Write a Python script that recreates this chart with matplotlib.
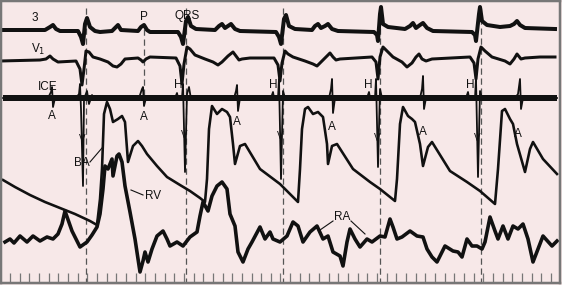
import numpy as np
import matplotlib.pyplot as plt

# traces (x, y in picture units, y grows downwards)
lead3_x = [3, 45, 50, 53, 56, 60, 78, 81, 83, 85, 87, 90, 95, 100, 112, 115, 118, 121, 138, 141, 144, 147, 150,
           178, 181, 183, 186, 188, 191, 196, 215, 219, 222, 225, 228, 231, 235, 240, 276, 279, 281, 284, 286, 289,
           295, 312, 315, 318, 321, 325, 328, 332, 338, 374, 377, 378, 380, 381, 383, 388, 405, 410, 413, 416, 420,
           423, 427, 433, 472, 475, 476, 479, 480, 482, 487, 500, 510, 514, 517, 520, 525, 555]
lead3_y = [31, 31, 28, 26, 30, 32, 32, 38, 45, 25, 19, 28, 32, 33, 32, 29, 26, 31, 32, 28, 26, 31, 33,
           33, 38, 45, 22, 18, 27, 30, 31, 27, 25, 29, 27, 25, 30, 32, 33, 38, 45, 20, 16, 27,
           30, 31, 27, 25, 29, 27, 25, 30, 32, 33, 36, 42, 15, 8, 25, 28, 30, 27, 24, 29, 26,
           24, 29, 32, 33, 36, 42, 15, 8, 22, 26, 28, 27, 25, 22, 26, 29, 30]

v1_x = [0, 40, 46, 50, 53, 58, 76, 80, 82, 84, 86, 89, 93, 100, 108, 113, 117, 121, 125, 138, 141, 143, 146, 150,
        176, 180, 182, 184, 187, 190, 195, 205, 213, 218, 222, 228, 233, 236, 239, 242, 250, 274, 278, 280, 282,
        285, 288, 293, 305, 313, 317, 322, 326, 330, 333, 336, 340, 372, 376, 378, 380, 383, 387, 393, 402, 407,
        412, 416, 419, 422, 426, 432, 470, 474, 476, 478, 481, 485, 492, 505, 510, 514, 517, 521, 525, 540, 555]
v1_y = [62, 61, 60, 57, 60, 63, 62, 70, 86, 70, 52, 53, 58, 60, 63, 67, 68, 65, 60, 59, 61, 63, 60, 58,
        59, 67, 85, 65, 48, 50, 56, 60, 63, 66, 63, 57, 53, 57, 61, 60, 59, 59, 66, 82, 64,
        52, 55, 58, 62, 65, 67, 62, 58, 54, 58, 61, 60, 58, 63, 80, 58, 48, 52, 58, 63, 68,
        64, 58, 55, 60, 62, 60, 58, 64, 80, 60, 48, 52, 58, 62, 65, 60, 55, 60, 59, 58, 58]

ice_x = [3, 48, 51, 52, 53, 55, 76, 79, 80, 81, 83, 84, 87, 89, 92, 95, 100, 139, 142, 143, 144, 146,
         175, 177, 178, 182, 183, 185, 187, 189, 191, 234, 236, 237, 238, 240, 271, 273, 274, 278, 279, 281,
         283, 285, 329, 331, 332, 333, 335, 367, 369, 370, 375, 376, 378, 380, 382, 420, 422, 423, 424, 426,
         466, 468, 469, 475, 476, 478, 480, 482, 515, 518, 520, 521, 523, 557]
ice_y = [99, 99, 93, 88, 108, 99, 99, 95, 85, 110, 187, 100, 92, 105, 96, 101, 99, 99, 90, 88, 107, 99,
         99, 94, 99, 99, 85, 173, 95, 88, 100, 99, 92, 86, 112, 99, 99, 93, 99, 99, 80, 180,
         92, 99, 99, 90, 80, 114, 99, 99, 93, 99, 99, 80, 168, 90, 99, 99, 90, 77, 110, 99,
         99, 93, 99, 99, 80, 178, 92, 99, 99, 95, 80, 110, 99, 99]
ice_base = 99

ba_x = [3, 15, 30, 45, 60, 75, 90, 97, 100, 102, 104, 107, 110, 113, 118, 122, 125, 128, 133, 138, 142, 147,
        157, 167, 180, 190, 200, 205, 207, 209, 212, 217, 222, 227, 230, 233, 235, 240, 245, 260, 280, 298,
        300, 302, 305, 308, 313, 318, 323, 327, 328, 332, 337, 353, 370, 380, 395, 397, 400, 403, 408, 412,
        415, 420, 423, 428, 432, 450, 467, 480, 495, 498, 502, 505, 510, 513, 517, 525, 530, 533, 543, 557]
ba_y = [181, 188, 196, 203, 209, 215, 222, 226, 200, 170, 115, 103, 110, 123, 120, 117, 123, 163, 147, 142, 147, 155,
        167, 178, 186, 192, 199, 203, 180, 130, 107, 115, 110, 113, 118, 145, 165, 147, 145, 170, 185, 203,
        170, 130, 110, 108, 115, 113, 118, 145, 165, 147, 145, 170, 183, 190, 202, 180, 125, 108, 117, 120,
        123, 145, 167, 148, 143, 172, 183, 192, 205, 170, 112, 110, 120, 125, 145, 173, 150, 143, 160, 175]

rv_x = [5, 10, 14, 20, 27, 33, 40, 47, 53, 58, 62, 65, 72, 80, 87, 92, 97, 100, 103, 105, 108, 112, 113, 117,
        119, 122, 125, 130, 135, 140, 143, 145, 148, 152, 157, 163, 167, 170, 177, 183, 190, 197, 200, 203,
        208, 212, 217, 222, 227, 230, 235, 238, 243, 248, 252, 260, 265, 270, 273, 280, 287, 293, 298, 303,
        310, 317, 323, 328, 333, 340, 343, 347, 350, 355, 360, 367, 372, 380, 385, 390, 393, 397, 402, 410,
        417, 423, 427, 432, 437, 445, 453, 458, 462, 467, 472, 477, 482, 485, 490, 495, 498, 503, 508, 513,
        518, 523, 528, 533, 538, 543, 552, 557]
rv_y = [243, 240, 244, 237, 243, 237, 242, 238, 240, 235, 225, 212, 232, 248, 243, 236, 228, 215, 190, 167, 170, 160,
        177, 157, 155, 163, 187, 213, 240, 273, 262, 253, 263, 250, 237, 232, 240, 247, 243, 247, 238, 233, 217,
        203, 212, 197, 187, 183, 190, 215, 227, 253, 263, 250, 243, 228, 240, 233, 240, 243, 237, 223, 227, 243,
        233, 227, 240, 237, 253, 257, 267, 243, 230, 240, 248, 240, 243, 237, 238, 220, 228, 240, 238, 232,
        237, 238, 250, 258, 263, 247, 252, 253, 258, 240, 247, 247, 250, 243, 218, 232, 240, 227, 240, 227,
        230, 225, 240, 263, 250, 237, 247, 242]

dash_full_x = [86, 186, 283, 380, 481]
dash_p_x = [144]
v_marks_x = [82, 184, 280, 377, 477]
v_marks_y = [140, 136, 137, 139, 139]
h_labels_x = [178, 273, 368, 470]
a_labels_x = [52, 144, 237, 332, 423, 518]
a_labels_y = [117, 118, 123, 128, 133, 135]
tick_x = np.arange(10, 553, 9.66)

W, H = 562, 285
fig = plt.figure(figsize=(W / 100, H / 100), dpi=100)
fig.patch.set_facecolor('#f7e8e8')
ax = fig.add_axes([1 / W, 2 / H, 559 / W, 282 / H])
ax.set_facecolor('#f7e8e8')
ax.set_xlim(1, 560)
ax.set_ylim(284, 2)
plt.rcParams['font.family'] = ['Liberation Sans', 'DejaVu Sans']

px = 0.72  # points per pixel
ink = '#111111'
ax.vlines(dash_full_x, 9, 284, colors='#555555', linestyles=(0, (5, 3)), lw=0.9)
ax.vlines(dash_p_x, 30, 96, colors='#555555', linestyles=(0, (5, 3)), lw=0.9)

ax.plot(lead3_x, lead3_y, color=ink, lw=4 * px, solid_joinstyle='round')
ax.plot(v1_x, v1_y, color=ink, lw=3 * px, solid_joinstyle='round')
ax.hlines(ice_base, 3, 557, colors=ink, lw=6 * px)
ax.plot(ice_x, ice_y, color=ink, lw=1.8 * px)
ax.plot(ba_x, ba_y, color=ink, lw=2.6 * px, solid_joinstyle='round')
ax.plot(rv_x, rv_y, color=ink, lw=3.6 * px, solid_joinstyle='round')

fs = 8.5
txt = dict(fontsize=fs, color=ink, ha='center', va='center')
ax.text(35, 19, '3', **txt)
ax.text(144, 18, 'P', **txt)
ax.text(187, 17, 'QRS', **txt)
ax.text(38, 50, 'V$_1$', **txt)
ax.text(48, 88, 'ICE', **txt)
for x in h_labels_x:
    ax.text(x, 86, 'H', **txt)
for x, y in zip(a_labels_x, a_labels_y):
    ax.text(x, y, 'A', **txt)
for x, y in zip(v_marks_x, v_marks_y):
    ax.text(x, y, 'V', fontsize=7, color=ink, ha='center', va='center')

ax.text(82, 164, 'BA', **txt)
ax.plot([90, 102], [163, 149], color=ink, lw=0.8)
ax.text(153, 197, 'RV', **txt)
ax.plot([131, 143], [191, 196], color=ink, lw=0.8)
ax.text(342, 218, 'RA', **txt)
ax.plot([333, 320], [222, 231], color=ink, lw=0.8)
ax.plot([351, 365], [222, 235], color=ink, lw=0.8)

for s in ax.spines.values():
    s.set_color('#777777')
    s.set_linewidth(2.5 * px)
ax.set_xticks(tick_x)
ax.set_yticks([])
ax.tick_params(axis='x', direction='in', length=7, width=0.9, color='#777777', labelbottom=False)

plt.savefig('out.png', dpi=100, facecolor=fig.get_facecolor())
